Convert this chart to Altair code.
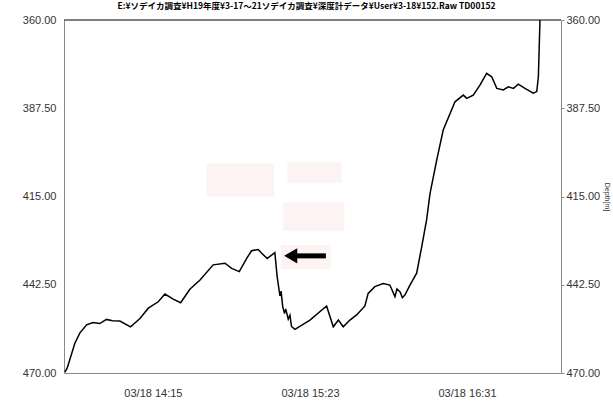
import altair as alt
import pandas as pd

# Depth log (local time on 2007-03-18, depth in metres)
times = [
    "13:36:54", "13:37:54", "13:41:12", "13:43:24", "13:46:18", "13:49:06",
    "13:52:00", "13:54:54", "13:57:30", "14:00:42", "14:05:18", "14:09:24",
    "14:13:00", "14:17:18", "14:20:12", "14:23:48", "14:27:00", "14:31:00",
    "14:35:24", "14:41:06", "14:46:12", "14:49:06", "14:52:24", "14:55:36",
    "14:57:42", "15:00:36", "15:02:06", "15:04:30", "15:07:48", "15:08:48",
    "15:10:00", "15:10:30", "15:11:12", "15:12:00", "15:12:30", "15:13:36",
    "15:14:20", "15:15:00", "15:16:30", "15:23:00", "15:30:12", "15:31:42",
    "15:33:06", "15:35:18", "15:37:24", "15:40:18", "15:43:12", "15:46:48",
    "15:48:12", "15:51:06", "15:54:42", "15:57:36", "15:59:48", "16:00:40",
    "16:02:00", "16:03:00", "16:04:06", "16:06:18", "16:09:12", "16:11:24",
    "16:13:30", "16:15:00", "16:17:54", "16:20:42", "16:25:48", "16:29:24",
    "16:30:54", "16:33:42", "16:36:36", "16:39:30", "16:41:42", "16:43:54",
    "16:46:42", "16:48:54", "16:51:06", "16:53:12", "16:56:06", "16:59:42",
    "17:01:12", "17:01:54", "17:02:36",
]
depths = [
    469.7, 468.4, 460.7, 457.5, 455.0, 454.3,
    454.6, 453.3, 453.7, 453.8, 455.6, 453.0,
    449.8, 447.8, 445.4, 447.0, 448.1, 443.9,
    441.0, 436.3, 435.8, 437.4, 438.4, 434.3,
    431.9, 431.5, 432.7, 434.3, 432.5, 440.0,
    446.0, 444.5, 449.3, 451.5, 450.0, 453.2,
    452.0, 455.5, 456.4, 453.5, 449.1, 452.5,
    455.6, 453.5, 455.6, 453.5, 451.9, 449.1,
    445.2, 443.1, 442.1, 442.6, 446.2, 443.8,
    444.7, 446.5, 445.7, 442.6, 438.9, 430.6,
    422.3, 414.0, 403.6, 394.3, 385.5, 383.4,
    384.4, 383.4, 380.3, 376.6, 377.7, 381.3,
    381.8, 380.8, 381.3, 380.0, 381.3, 382.8,
    382.3, 377.7, 360.0,
]

# Faint masking boxes over the plot (start time, end time, top depth, bottom depth)
box_t1 = ["14:38:18", "15:13:12", "15:11:24", "15:10:24"]
box_t2 = ["15:07:24", "15:36:42", "15:37:54", "15:32:06"]
box_d1 = [404.7, 404.3, 416.8, 430.1]
box_d2 = [415.1, 410.7, 425.7, 437.6]

# Arrow annotation
arrow_shaft = ["15:17:00", "15:29:54"]
arrow_head = "15:14:40"
arrow_depth = 433.5

y_ticks = [360.0, 387.5, 415.0, 442.5, 470.0]
x_ticks = [(14, 15), (15, 23), (16, 31)]

day = "2007-03-18T"
df = pd.DataFrame({"time": [day + t for t in times], "depth": depths})
boxes = pd.DataFrame({
    "t1": [day + t for t in box_t1], "t2": [day + t for t in box_t2],
    "d1": box_d1, "d2": box_d2,
})
shaft = pd.DataFrame({"t1": [day + arrow_shaft[0]], "t2": [day + arrow_shaft[1]], "d": [arrow_depth]})
head = pd.DataFrame({"t": [day + arrow_head], "d": [arrow_depth]})

def dt(h, m, s=0):
    return alt.DateTime(year=2007, month=3, date=18, hours=h, minutes=m, seconds=s)

x_scale = alt.Scale(domain=[dt(13, 36, 30), dt(17, 11, 42)])
y_scale = alt.Scale(domain=[360, 470], reverse=True, nice=False, zero=False)

lab_font = "Liberation Sans"
x_axis = alt.Axis(values=[dt(h, m) for h, m in x_ticks], format="%m/%d %H:%M",
                  ticks=False, grid=False, domainColor="#8a8a8a", labelPadding=14,
                  labelFontSize=11, labelFont=lab_font, labelColor="#333333",
                  title=None)

left_axis = alt.Axis(orient="left", values=y_ticks, format=".2f", ticks=False, grid=False,
                     domainColor="#8a8a8a", labelPadding=8, labelFontSize=11,
                     labelFont=lab_font, labelColor="#333333", title=None)
right_axis = alt.Axis(orient="right", values=y_ticks, format=".2f", ticks=True, tickSize=3,
                      tickColor="#8a8a8a", grid=False, domainColor="#8a8a8a", labelPadding=2,
                      labelFontSize=11, labelFont=lab_font, labelColor="#333333",
                      title="Depth[m]", titleFontSize=7, titleFont=lab_font,
                      titleFontWeight="normal", titleAngle=90, titlePadding=4,
                      titleColor="#333333")

box_layer = alt.Chart(boxes).mark_rect(color="#fdf3f3").encode(
    x=alt.X("t1:T", scale=x_scale, axis=x_axis),
    x2="t2:T",
    y=alt.Y("d1:Q", scale=y_scale, axis=None),
    y2="d2:Q",
)

line_layer = alt.Chart(df).mark_line(color="black", strokeWidth=1.5, clip=True).encode(
    x=alt.X("time:T", scale=x_scale),
    y=alt.Y("depth:Q", scale=y_scale, axis=left_axis),
)

right_layer = alt.Chart(df).mark_line(opacity=0).encode(
    x=alt.X("time:T", scale=x_scale),
    y=alt.Y("depth:Q", scale=y_scale, axis=right_axis),
)

top_layer = alt.Chart(pd.DataFrame({"d": [360.0]})).mark_rule(color="black", strokeWidth=1.2).encode(
    y=alt.Y("d:Q", scale=y_scale, axis=None),
)

shaft_layer = alt.Chart(shaft).mark_rule(color="black", strokeWidth=5).encode(
    x=alt.X("t1:T", scale=x_scale), x2="t2:T",
    y=alt.Y("d:Q", scale=y_scale, axis=None),
)
head_layer = alt.Chart(head).mark_point(shape="triangle-left", filled=True, color="black",
                                         size=230, opacity=1).encode(
    x=alt.X("t:T", scale=x_scale),
    y=alt.Y("d:Q", scale=y_scale, axis=None),
)

title = alt.TitleParams(
    text="E:¥ソデイカ調査¥H19年度¥3-17～21ソデイカ調査¥深度計データ¥User¥3-18¥152.Raw TD00152",
    font="Noto Sans CJK JP", fontSize=8.5, fontWeight="bold", color="black",
    anchor="middle", offset=4, dx=-6,
)

chart = alt.layer(
    box_layer, line_layer, right_layer, top_layer, shaft_layer, head_layer
).resolve_scale(y="independent").properties(
    width=497, height=353, title=title,
    padding={"left": 64, "top": 20, "right": 52, "bottom": 35},
    autosize=alt.AutoSizeParams(type="none"),
    background="white",
).configure_view(stroke=None)

chart.save("out.html", embed_options={"renderer": "svg", "actions": False})
